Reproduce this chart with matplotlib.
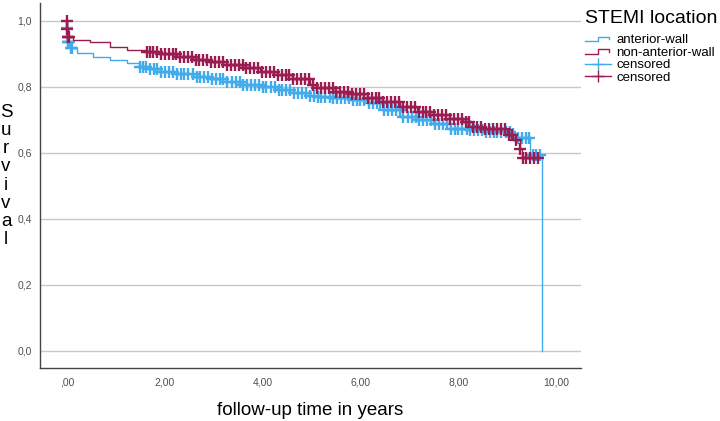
import matplotlib
matplotlib.use("Agg")
import matplotlib.pyplot as plt
from matplotlib.lines import Line2D
from matplotlib.legend_handler import HandlerBase
import numpy as np

plt.rcParams['font.family'] = ['Liberation Sans', 'DejaVu Sans']

# Kaplan-Meier steps (years, survival)
ant_t = [0.0, 0.01, 0.02, 0.06, 0.20, 0.53, 0.88, 1.23, 1.49, 1.64, 1.90, 2.25, 2.58,
         2.92, 3.27, 3.60, 3.95, 4.29, 4.62, 4.97, 5.11, 5.44, 5.79, 6.13, 6.46, 6.81,
         7.16, 7.48, 7.83, 8.18, 8.51, 9.06, 9.20, 9.47, 9.71]
ant_s = [1.0, 0.977, 0.936, 0.917, 0.902, 0.891, 0.881, 0.871, 0.861, 0.854, 0.845, 0.838, 0.830,
         0.823, 0.815, 0.807, 0.800, 0.790, 0.780, 0.773, 0.770, 0.767, 0.760, 0.750, 0.729, 0.709,
         0.699, 0.687, 0.672, 0.669, 0.664, 0.657, 0.644, 0.593, 0.0]

non_t = [0.0, 0.01, 0.02, 0.12, 0.47, 0.88, 1.23, 1.64, 1.90, 2.25, 2.58, 2.92, 3.27,
         3.60, 3.95, 4.29, 4.62, 4.97, 5.11, 5.44, 5.79, 6.13, 6.46, 6.81, 7.16, 7.48,
         7.83, 8.10, 8.30, 8.51, 9.00, 9.12, 9.26, 9.30]
non_s = [1.0, 0.975, 0.950, 0.941, 0.936, 0.921, 0.913, 0.906, 0.898, 0.891, 0.881, 0.876, 0.866,
         0.856, 0.845, 0.835, 0.823, 0.805, 0.795, 0.783, 0.777, 0.765, 0.753, 0.739, 0.724, 0.714,
         0.701, 0.694, 0.679, 0.672, 0.654, 0.638, 0.613, 0.583]
non_end = 9.63

# censored observations (years)
ant_cens = [0.01, 0.02, 0.03, 0.05, 0.08, 0.10,
            1.50, 1.56, 1.62, 1.70, 1.78, 1.85, 1.93, 2.00, 2.08, 2.17, 2.25, 2.33, 2.40, 2.48,
            2.57, 2.65, 2.73, 2.80, 2.88, 2.97, 3.05, 3.13, 3.20, 3.28, 3.37, 3.45, 3.53, 3.60,
            3.68, 3.77, 3.85, 3.93, 4.00, 4.08, 4.17, 4.25, 4.33, 4.40, 4.48, 4.57, 4.65, 4.73,
            4.80, 4.88, 4.97, 5.05, 5.13, 5.20, 5.28, 5.37, 5.45, 5.53, 5.60, 5.68, 5.77, 5.85,
            5.93, 6.00, 6.08, 6.17, 6.25, 6.33, 6.40, 6.48, 6.57, 6.65, 6.73, 6.80, 6.88, 6.97,
            7.05, 7.13, 7.20, 7.28, 7.37, 7.45, 7.53, 7.60, 7.68, 7.77, 7.85, 7.93, 8.00, 8.08,
            8.17, 8.25, 8.33, 8.40, 8.48, 8.57, 8.65, 8.73, 8.80, 8.88, 8.97, 9.05, 9.13, 9.22,
            9.30, 9.38, 9.44, 9.52, 9.60, 9.68]
non_cens = [0.0, 0.01, 0.02, 0.03, 0.05,
            1.64, 1.70, 1.77, 1.85, 1.92, 2.00, 2.08, 2.16, 2.24, 2.31, 2.39, 2.47, 2.55, 2.63,
            2.71, 2.79, 2.87, 2.95, 3.03, 3.11, 3.19, 3.27, 3.35, 3.43, 3.51, 3.59, 3.67, 3.75,
            3.83, 3.91, 3.99, 4.07, 4.15, 4.23, 4.31, 4.39, 4.47, 4.55, 4.63, 4.71, 4.79, 4.87,
            4.95, 5.03, 5.11, 5.19, 5.27, 5.35, 5.43, 5.51, 5.59, 5.67, 5.75, 5.83, 5.91, 5.99,
            6.07, 6.15, 6.23, 6.31, 6.39, 6.47, 6.55, 6.63, 6.71, 6.79, 6.87, 6.95, 7.03, 7.11,
            7.19, 7.27, 7.35, 7.43, 7.51, 7.59, 7.67, 7.75, 7.83, 7.91, 7.99, 8.07, 8.15, 8.23,
            8.31, 8.39, 8.47, 8.55, 8.63, 8.71, 8.79, 8.87, 8.95, 9.03, 9.10, 9.18, 9.27,
            9.33, 9.38, 9.46, 9.55, 9.63]

y_ticks = [0.0, 0.2, 0.4, 0.6, 0.8, 1.0]
y_labels = ["0,0", "0,2", "0,4", "0,6", "0,8", "1,0"]
x_ticks = [0, 2, 4, 6, 8, 10]
x_labels = [",00", "2,00", "4,00", "6,00", "8,00", "10,00"]

blue = '#41abec'
red = '#9b1c50'


def surv_at(times, surv, t):
    idx = np.searchsorted(times, t, side='right') - 1
    return np.array(surv)[idx]


class StepHandler(HandlerBase):
    def create_artists(self, legend, orig_handle, xdescent, ydescent, width, height, fontsize, trans):
        xs = np.array([0.0, 0.5, 0.5, 0.92, 0.92]) * width - xdescent
        ys = np.array([0.25, 0.25, 0.7, 0.7, 0.45]) * height - ydescent
        ln = Line2D(xs, ys, color=orig_handle.get_color(), lw=1.0, transform=trans)
        return [ln]


fig = plt.figure(figsize=(7.2, 4.21), dpi=100)
ax = fig.add_axes([40 / 720, 1 - 368 / 421, 541 / 720, 365 / 421])

ax.step(ant_t, ant_s, where='post', color=blue, lw=1.0, zorder=3)
ax.step(non_t + [non_end], non_s + [non_s[-1]], where='post', color=red, lw=1.0, zorder=4)
ax.plot(ant_cens, surv_at(ant_t, ant_s, ant_cens), '+', color=blue, ms=8, mew=1.7, zorder=3)
ax.plot(non_cens, surv_at(non_t, non_s, non_cens), '+', color=red, ms=8, mew=1.7, zorder=4)

ax.set_xlim(-0.55, 10.51)
ax.set_ylim(-0.052, 1.054)
ax.set_yticks(y_ticks)
ax.set_yticklabels(y_labels)
ax.set_xticks(x_ticks)
ax.set_xticklabels(x_labels)
ax.tick_params(length=0, labelsize=7.5, labelcolor='#505050')
ax.tick_params(axis='y', pad=6)
ax.tick_params(axis='x', pad=7)
ax.grid(axis='y', color='#c8c8c8', lw=1.0, zorder=0)
ax.set_axisbelow(True)
for s in ['top', 'right']:
    ax.spines[s].set_visible(False)
for s in ['left', 'bottom']:
    ax.spines[s].set_color('#444444')
    ax.spines[s].set_linewidth(1.0)

ax.set_xlabel("follow-up time in years", fontsize=13.5, labelpad=10)
fig.text(6 / 720, 1 - 176 / 421, "\n".join("Survival"), ha='center', va='center',
         fontsize=13.5, linespacing=1.09)

h_ant = Line2D([], [], color=blue)
h_non = Line2D([], [], color=red)
h_cant = Line2D([], [], color=blue, marker='+', ms=9, mew=1.0, lw=1.0)
h_cnon = Line2D([], [], color=red, marker='+', ms=9, mew=1.0, lw=1.0)
leg = fig.legend([h_ant, h_non, h_cant, h_cnon],
                 ["anterior-wall", "non-anterior-wall", "censored", "censored"],
                 handler_map={h_ant: StepHandler(), h_non: StepHandler()},
                 title="STEMI location", title_fontsize=14, fontsize=9.5,
                 loc='upper left', bbox_to_anchor=(585 / 720, 1 - 10 / 421),
                 frameon=False, alignment='left', borderpad=0, borderaxespad=0,
                 handlelength=2.0, handletextpad=0.35, labelspacing=0.03)
leg._legend_box.sep = 5

fig.savefig("out.png", dpi=100)
